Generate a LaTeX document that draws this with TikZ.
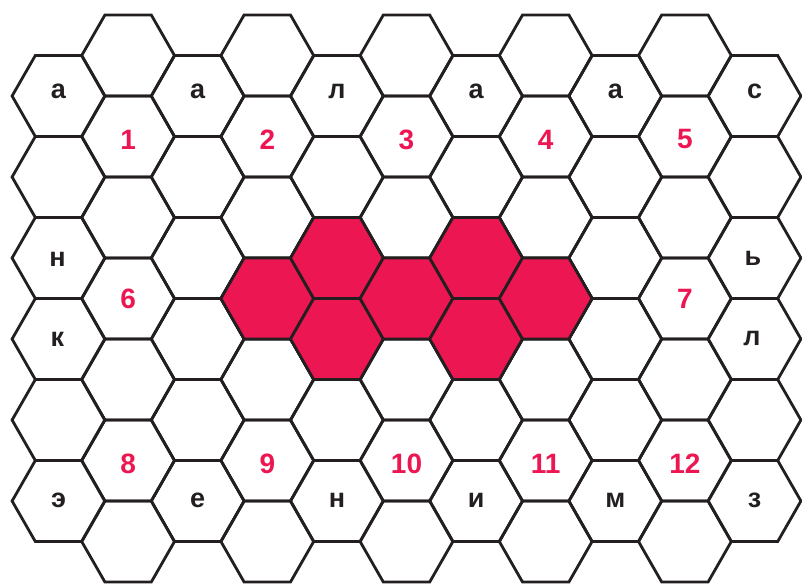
\documentclass[tikz,border=0pt]{standalone}
\usepackage{fontspec}
\setmainfont{Liberation Sans}
\definecolor{hexred}{RGB}{236,22,82}
\definecolor{ink}{RGB}{35,31,32}
\newcommand{\hexcell}[3][]{\draw[hexline,#1] ({#2-46.4},#3) -- ++(23.2,-40.5) -- ++(46.4,0) -- ++(23.2,40.5) -- ++(-23.2,40.5) -- ++(-46.4,0) -- cycle;}
\begin{document}
\begin{tikzpicture}[x=1pt,y=-1pt,
  hexline/.style={draw=ink, line width=2.8pt},
  redcell/.style={fill=hexred},
  letter/.style={inner sep=0pt, text=ink, font=\bfseries\fontsize{27}{27}\selectfont},
  num/.style={inner sep=0pt, text=hexred, font=\bfseries\fontsize{28}{28}\selectfont}]
\useasboundingbox (0,0) rectangle (802,584);
% grid
\foreach \c in {0,2,...,10} \foreach \r in {0,...,5} {\hexcell{58.5+69.6*\c}{96+81*\r}}
\foreach \c in {1,3,...,9} \foreach \r in {0,...,6} {\hexcell{58.5+69.6*\c}{55.5+81*\r}}
% red cells
\hexcell[redcell]{58.5+69.6*3}{298.5}
\hexcell[redcell]{58.5+69.6*4}{258}
\hexcell[redcell]{58.5+69.6*4}{339}
\hexcell[redcell]{58.5+69.6*5}{298.5}
\hexcell[redcell]{58.5+69.6*6}{258}
\hexcell[redcell]{58.5+69.6*6}{339}
\hexcell[redcell]{58.5+69.6*7}{298.5}
% top letters
\node[letter] (t0) at (58.5,91) {а};
\node[letter] (t2) at (197.7,91) {а};
\node[letter] (t4) at (336.9,91) {л};
\node[letter] (t6) at (476.1,91) {а};
\node[letter] (t8) at (615.3,91) {а};
\node[letter] (t10) at (754.5,91) {с};
% top numbers
\node[num] (n1) at (128.1,139.5) {1};
\node[num] (n2) at (267.3,139.5) {2};
\node[num] (n3) at (406.5,139.5) {3};
\node[num] (n4) at (545.7,139.5) {4};
\node[num] (n5) at (684.9,139.5) {5};
% side
\node[letter] (l1) at (57.5,259) {н};
\node[letter] (l2) at (57.5,339) {к};
\node[num] (n6) at (128.1,299) {6};
\node[letter] (r1) at (753,258) {ь};
\node[letter] (r2) at (752,338) {л};
\node[num] (n7) at (684.9,299) {7};
% bottom numbers
\node[num] (n8) at (128.1,463.5) {8};
\node[num] (n9) at (267.3,463.5) {9};
\node[num] (n10) at (406.5,463.5) {10};
\node[num] (n11) at (545.7,463.5) {11};
\node[num] (n12) at (684.9,463.5) {12};
% bottom letters
\node[letter] (b0) at (58.5,500.5) {э};
\node[letter] (b2) at (197.7,500.5) {е};
\node[letter] (b4) at (336.9,500.5) {н};
\node[letter] (b6) at (476.1,500.5) {и};
\node[letter] (b8) at (615.3,500.5) {м};
\node[letter] (b10) at (754.5,500.5) {з};
\end{tikzpicture}
\end{document}
